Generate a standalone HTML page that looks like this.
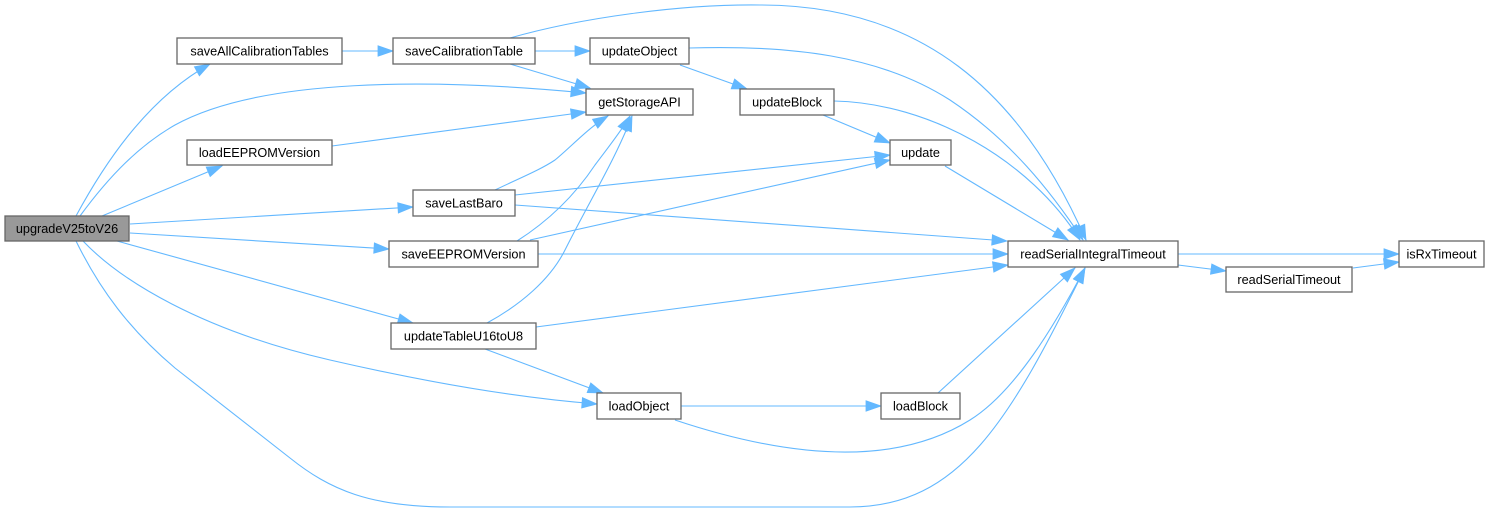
<!DOCTYPE html>
<html>
<head>
<meta charset="utf-8">
<style>
  html, body { margin:0; padding:0; background:#ffffff; }
  svg { display:block; }
  text { font-family: "Liberation Sans", Arial, sans-serif; font-size:12.7px; fill:#000; text-anchor:middle; }
  .e { fill:none; stroke:#63b8ff; stroke-width:1.1; }
  .n { fill:#ffffff; stroke:#666666; stroke-width:1.3; }
  .r { fill:#999999; stroke:#666666; stroke-width:1.3; }
</style>
</head>
<body>
<svg width="1499" height="513" viewBox="0 0 1499 513" xmlns="http://www.w3.org/2000/svg">
  <defs>
    <marker id="a" markerUnits="userSpaceOnUse" markerWidth="16" markerHeight="12" refX="15" refY="5.2" orient="auto" overflow="visible">
      <path d="M0,0 L15,5.2 L0,10.4 z" fill="#63b8ff" stroke="#63b8ff" stroke-width="0.8"/>
    </marker>
  </defs>

  <!-- edges from upgradeV25toV26 -->
  <path class="e" marker-end="url(#a)" d="M76,216 C102,168 145,100 210,64"/>
  <path class="e" marker-end="url(#a)" d="M80,216 C110,175 140,145 175,125 C260,78 430,78 586,93"/>
  <path class="e" marker-end="url(#a)" d="M102,216 L222,166"/>
  <path class="e" marker-end="url(#a)" d="M130,224 L413,207"/>
  <path class="e" marker-end="url(#a)" d="M130,233 L389,249"/>
  <path class="e" marker-end="url(#a)" d="M117,241 L413,323"/>
  <path class="e" marker-end="url(#a)" d="M83,241 C120,280 200,330 330,360 C430,383 520,398 597,404"/>
  <path class="e" marker-end="url(#a)" d="M76,241 C100,290 130,330 175,368 L290,458 C330,490 370,507 450,507 L850,507 C960,507 1010,420 1085,268"/>

  <!-- saveAllCalibrationTables -->
  <path class="e" marker-end="url(#a)" d="M342,51 L393,51"/>

  <!-- saveCalibrationTable -->
  <path class="e" marker-end="url(#a)" d="M535,51 L590,51"/>
  <path class="e" marker-end="url(#a)" d="M510,64 L590,88"/>
  <path class="e" marker-end="url(#a)" d="M510,38 C580,18 680,4 760,5 C920,5 1020,90 1086,240"/>

  <!-- updateObject -->
  <path class="e" marker-end="url(#a)" d="M680,65 L747,89"/>
  <path class="e" marker-end="url(#a)" d="M689,48 C790,45 880,55 950,100 C1010,140 1050,190 1083,240"/>

  <!-- updateBlock -->
  <path class="e" marker-end="url(#a)" d="M823,115 L890,143"/>
  <path class="e" marker-end="url(#a)" d="M834,101 C930,103 1030,160 1080,240"/>

  <!-- update -->
  <path class="e" marker-end="url(#a)" d="M945,166 L1068,240"/>

  <!-- loadEEPROMVersion -->
  <path class="e" marker-end="url(#a)" d="M332,146 L586,112"/>

  <!-- saveLastBaro -->
  <path class="e" marker-end="url(#a)" d="M495,190 C520,178 540,170 555,160 C572,146 588,128 608,116"/>
  <path class="e" marker-end="url(#a)" d="M515,195 L890,155"/>
  <path class="e" marker-end="url(#a)" d="M515,205 L1007,241"/>

  <!-- saveEEPROMVersion -->
  <path class="e" marker-end="url(#a)" d="M517,241 C550,220 575,195 595,165 C610,145 622,130 630,116"/>
  <path class="e" marker-end="url(#a)" d="M530,240 L890,160"/>
  <path class="e" marker-end="url(#a)" d="M538,254 L1008,254"/>

  <!-- updateTableU16toU8 -->
  <path class="e" marker-end="url(#a)" d="M487,323 C520,305 550,280 565,250 C590,200 615,160 632,116"/>
  <path class="e" marker-end="url(#a)" d="M536,327 L1008,265"/>
  <path class="e" marker-end="url(#a)" d="M485,349 L603,393"/>

  <!-- loadObject -->
  <path class="e" marker-end="url(#a)" d="M681,406 L881,406"/>
  <path class="e" marker-end="url(#a)" d="M675,420 C780,455 890,470 970,420 C1015,392 1055,325 1085,268"/>

  <!-- loadBlock -->
  <path class="e" marker-end="url(#a)" d="M938,393 L1075,268"/>

  <!-- readSerialIntegralTimeout -->
  <path class="e" marker-end="url(#a)" d="M1178,254 L1399,254"/>
  <path class="e" marker-end="url(#a)" d="M1178,265 L1226,271"/>

  <!-- readSerialTimeout -->
  <path class="e" marker-end="url(#a)" d="M1353,268 L1399,262"/>

  <!-- nodes -->
  <rect class="r" x="5" y="216" width="124" height="25"/>
  <text x="67" y="233">upgradeV25toV26</text>

  <rect class="n" x="177" y="38" width="165" height="26"/>
  <text x="259.5" y="55.5">saveAllCalibrationTables</text>

  <rect class="n" x="393" y="38" width="142" height="26"/>
  <text x="464" y="55.5">saveCalibrationTable</text>

  <rect class="n" x="590" y="38" width="99" height="26"/>
  <text x="639.5" y="55.5">updateObject</text>

  <rect class="n" x="586" y="89" width="107" height="26"/>
  <text x="639.5" y="106.5">getStorageAPI</text>

  <rect class="n" x="740" y="89" width="94" height="26"/>
  <text x="787" y="106.5">updateBlock</text>

  <rect class="n" x="187" y="140" width="145" height="25"/>
  <text x="259.5" y="157">loadEEPROMVersion</text>

  <rect class="n" x="890" y="140" width="61" height="25"/>
  <text x="920.5" y="157">update</text>

  <rect class="n" x="413" y="190" width="102" height="26"/>
  <text x="464" y="207.5">saveLastBaro</text>

  <rect class="n" x="389" y="241" width="149" height="26"/>
  <text x="463.5" y="258.5">saveEEPROMVersion</text>

  <rect class="n" x="1008" y="241" width="170" height="26"/>
  <text x="1093" y="258.5">readSerialIntegralTimeout</text>

  <rect class="n" x="1399" y="241" width="85" height="26"/>
  <text x="1441.5" y="258.5">isRxTimeout</text>

  <rect class="n" x="1226" y="267" width="126" height="25"/>
  <text x="1289" y="284">readSerialTimeout</text>

  <rect class="n" x="391" y="323" width="145" height="26"/>
  <text x="463.5" y="340.5">updateTableU16toU8</text>

  <rect class="n" x="597" y="393" width="84" height="26"/>
  <text x="639" y="410.5">loadObject</text>

  <rect class="n" x="881" y="393" width="79" height="26"/>
  <text x="920.5" y="410.5">loadBlock</text>
</svg>
</body>
</html>
